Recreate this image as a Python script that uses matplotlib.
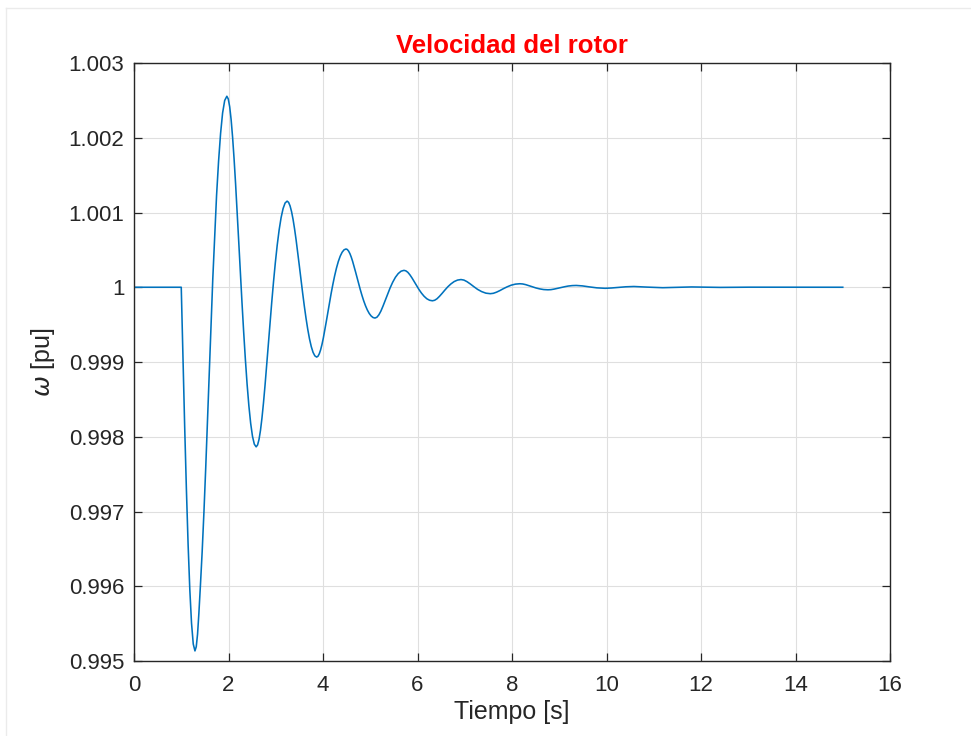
import matplotlib
matplotlib.use("Agg")
import matplotlib.pyplot as plt
from matplotlib.lines import Line2D

plt.rcParams['font.family'] = ['Liberation Sans', 'DejaVu Sans']
plt.rcParams['mathtext.fontset'] = 'dejavusans'

# Rotor speed response after the disturbance at t = 1 s (time in s, speed in pu)
tiempo = [
    0.0, 1.0, 1.036, 1.0725, 1.109, 1.145, 1.181, 1.2175, 1.254,
    1.29, 1.3175, 1.345, 1.3725, 1.405, 1.4425, 1.48, 1.5175, 1.555, 1.5925,
    1.63, 1.6675, 1.71, 1.7475, 1.79, 1.8325, 1.875, 1.9195,
    1.965, 1.9951, 2.0253, 2.0558, 2.0867, 2.1181, 2.15, 2.1826, 2.2159, 2.25,
    2.2848, 2.3204, 2.3567, 2.3936, 2.4312, 2.4692, 2.5076, 2.5462,
    2.585, 2.6153, 2.6458, 2.6767, 2.7081, 2.7401, 2.773, 2.8068, 2.8416, 2.8775,
    2.9144, 2.9524, 2.9914, 3.0312, 3.0719, 3.1133, 3.1553, 3.1975,
    3.24, 3.2713, 3.3027, 3.3343, 3.3663, 3.3986, 3.4313, 3.4647, 3.4985, 3.533,
    3.5681, 3.6038, 3.64, 3.6768, 3.714, 3.7517, 3.7896, 3.8277,
    3.866, 3.8936, 3.9213, 3.9495, 3.9783, 4.0079, 4.0384, 4.0699, 4.1026, 4.1365,
    4.1716, 4.2079, 4.2454, 4.2839, 4.3233, 4.3635, 4.4043, 4.4456,
    4.487, 4.5141, 4.5414, 4.5692, 4.5975, 4.6266, 4.6567, 4.6878, 4.72, 4.7535,
    4.7882, 4.824, 4.861, 4.8991, 4.9381, 4.9778, 5.0182, 5.059,
    5.10, 5.1408, 5.1823, 5.2252, 5.27, 5.3172, 5.367, 5.4195, 5.4747, 5.5322,
    5.5917, 5.6525,
    5.714, 5.755, 5.7967, 5.8395, 5.884, 5.9306, 5.9795, 6.0308, 6.0844, 6.14,
    6.1973, 6.2559,
    6.315, 6.3631, 6.4125, 6.4641, 6.519, 6.5775, 6.64, 6.7061, 6.7755, 6.8471,
    6.92, 6.9822, 7.0467, 7.1155, 7.19, 7.2705, 7.3567, 7.4472,
    7.54, 7.6047, 7.6715, 7.742, 7.8175, 7.8983, 7.984, 8.0735,
    8.165, 8.226, 8.289, 8.3558, 8.4275, 8.5045, 8.5865, 8.6722,
    8.76, 8.8235, 8.8888, 8.9573, 9.03, 9.1073, 9.1888, 9.2735,
    9.36, 9.4913, 9.635, 9.7963,
    9.97, 10.1013, 10.245, 10.4063,
    10.58, 10.855, 11.19, 11.8, 12.41, 13.02, 15.0,
]
omega = [
    1.0, 1.0, 0.999051, 0.998137, 0.997295, 0.99656, 0.995957, 0.995505, 0.995227,
    0.995135, 0.995191, 0.995359, 0.995632, 0.996003, 0.99646, 0.99699, 0.997576, 0.998201, 0.998845,
    0.999489, 1.000114, 1.0007, 1.00123, 1.001687, 1.002058, 1.002331, 1.002499,
    1.002555, 1.002519, 1.002414, 1.002241, 1.002006, 1.001717, 1.001383, 1.001012, 1.000617, 1.00021,
    0.999803, 0.999408, 0.999038, 0.998703, 0.998414, 0.998179, 0.998006, 0.997901,
    0.997865, 0.99789, 0.997964, 0.998085, 0.99825, 0.998452, 0.998687, 0.998946, 0.999223, 0.999509,
    0.999794, 1.000071, 1.00033, 1.000565, 1.000768, 1.000932, 1.001053, 1.001127,
    1.001152, 1.001136, 1.001089, 1.001012, 1.000908, 1.000779, 1.000631, 1.000466, 1.00029, 1.000109,
    0.999928, 0.999752, 0.999588, 0.999439, 0.99931, 0.999206, 0.999129, 0.999082,
    0.999066, 0.999077, 0.99911, 0.999163, 0.999235, 0.999324, 0.999428, 0.999542, 0.999664, 0.999789,
    0.999915, 1.000036, 1.000151, 1.000254, 1.000343, 1.000415, 1.000468, 1.000501,
    1.000512, 1.000505, 1.000484, 1.00045, 1.000404, 1.000347, 1.000281, 1.000208, 1.00013, 1.00005,
    0.99997, 0.999892, 0.999819, 0.999753, 0.999696, 0.99965, 0.999616, 0.999595,
    0.999588, 0.999599, 0.999631, 0.999681, 0.999748, 0.999824, 0.999907, 0.99999, 1.000067, 1.000133,
    1.000183, 1.000215,
    1.000226, 1.000219, 1.000199, 1.000166, 1.000124, 1.000075, 1.000023, 0.99997, 0.999921, 0.999879,
    0.999846, 0.999826,
    0.999819, 0.999826, 0.999846, 0.999878, 0.999917, 0.999961, 1.000005, 1.000044, 1.000076, 1.000096,
    1.000103, 1.000096, 1.000075, 1.000045, 1.000009, 0.999972, 0.999942, 0.999921,
    0.999914, 0.999919, 0.999934, 0.999955, 0.999981, 1.000006, 1.000028, 1.000042,
    1.000047, 1.000044, 1.000035, 1.000022, 1.000007, 0.999991, 0.999978, 0.999969,
    0.999966, 0.999968, 0.999975, 0.999984, 0.999995, 1.000006, 1.000016, 1.000022,
    1.000024, 1.000018, 1.000005, 0.999992,
    0.999986, 0.99999, 0.999998, 1.000006,
    1.00001, 1.000002, 0.999994, 1.000004, 0.999998, 1.000001, 1.0,
]

x_ticks = [0, 2, 4, 6, 8, 10, 12, 14, 16]
y_ticks = [0.995, 0.996, 0.997, 0.998, 0.999, 1.0, 1.001, 1.002, 1.003]
y_tick_labels = ['0.995', '0.996', '0.997', '0.998', '0.999', '1', '1.001', '1.002', '1.003']

axis_color = '#262626'

fig = plt.figure(figsize=(9.71, 7.36), dpi=100)
ax = fig.add_axes([0.138, 0.1019, 0.7786, 0.8125])

ax.plot(tiempo, omega, color='#0072BD', lw=1.15, solid_joinstyle='round')

ax.set_xlim(0, 16)
ax.set_ylim(0.995, 1.003)
ax.set_xticks(x_ticks)
ax.set_xticklabels([str(v) for v in x_ticks])
ax.set_yticks(y_ticks)
ax.set_yticklabels(y_tick_labels)

ax.grid(True, color='#dfdfdf', lw=0.8)
ax.set_axisbelow(True)

for sp in ax.spines.values():
    sp.set_color(axis_color)
    sp.set_linewidth(1.0)

ax.tick_params(axis='both', which='major', direction='in', length=5.5, width=0.9,
               color=axis_color, labelcolor=axis_color, labelsize=16,
               top=True, right=True)
ax.tick_params(axis='y', pad=7)
ax.tick_params(axis='x', pad=10)

ax.set_title('Velocidad del rotor', color='#FF0000', fontsize=18.5,
             fontweight='bold', pad=7)
ax.set_xlabel('Tiempo [s]', fontsize=18, color=axis_color, labelpad=3)
ax.set_ylabel(r'$\omega$ [pu]', fontsize=18, color=axis_color, labelpad=8)

# Light frame around the figure canvas
W, H = 971.0, 736.0
fig.add_artist(Line2D([6 / W, 1.0], [1 - 8 / H, 1 - 8 / H], transform=fig.transFigure,
                      color='#ebebeb', lw=1.0))
fig.add_artist(Line2D([6 / W, 6 / W], [0.0, 1 - 8 / H], transform=fig.transFigure,
                      color='#ebebeb', lw=1.0))

fig.savefig('out.png', dpi=100, facecolor='white')
